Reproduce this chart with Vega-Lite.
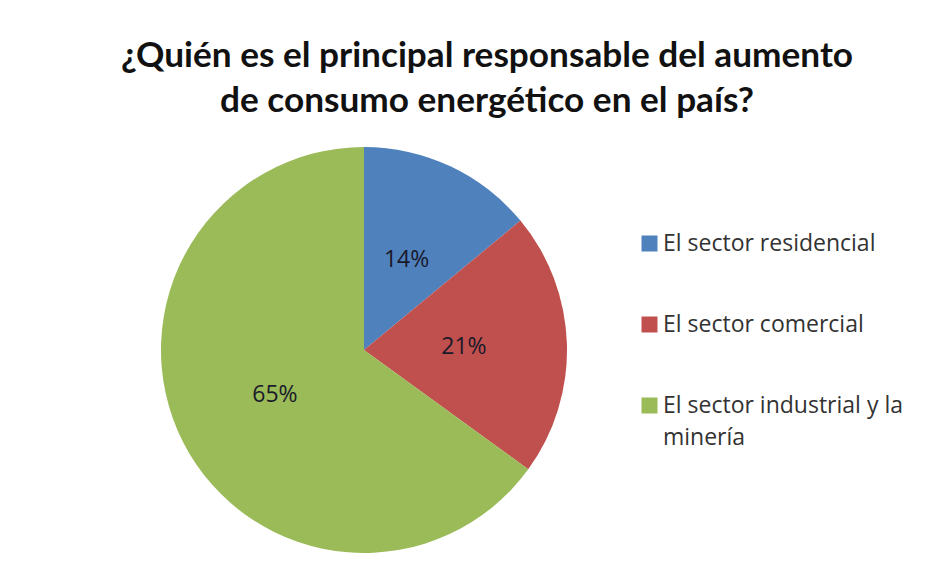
{
  "$schema": "https://vega.github.io/schema/vega-lite/v6.json",
  "width": 406,
  "height": 406,
  "autosize": {"type": "none"},
  "padding": {"left": 161, "top": 147, "right": 380, "bottom": 24},
  "background": "white",
  "title": {
    "text": ["¿Quién es el principal responsable del aumento", "de consumo energético en el país?"],
    "font": "Lato",
    "fontSize": 35.2,
    "fontWeight": "bold",
    "color": "#111111",
    "lineHeight": 45,
    "anchor": "middle",
    "dx": 123,
    "offset": 28
  },
  "data": {
    "values": [
      {"sector": "El sector residencial", "pct": 14, "label": "14%", "order": 1},
      {"sector": "El sector comercial", "pct": 21, "label": "21%", "order": 2},
      {"sector": "El sector industrial y la minería", "pct": 65, "label": "65%", "order": 3}
    ]
  },
  "encoding": {
    "theta": {"field": "pct", "type": "quantitative", "stack": true},
    "order": {"field": "order", "type": "quantitative"},
    "color": {
      "field": "sector",
      "type": "nominal",
      "sort": ["El sector residencial", "El sector comercial", "El sector industrial y la minería"],
      "scale": {
        "domain": ["El sector residencial", "El sector comercial", "El sector industrial y la minería"],
        "range": ["#4F81BD", "#C0504D", "#9BBB59"]
      },
      "legend": {
        "title": null,
        "orient": "none",
        "legendX": 477,
        "legendY": 85,
        "symbolType": "square",
        "symbolSize": 256,
        "symbolStrokeWidth": 0,
        "labelFont": "Open Sans",
        "labelFontSize": 23,
        "labelColor": "#333333",
        "labelLimit": 400,
        "labelOffset": 2,
        "rowPadding": 57,
        "labelExpr": "datum.label == 'El sector industrial y la minería' ? ['El sector industrial y la', 'minería'] : datum.label"
      }
    }
  },
  "layer": [
    {
      "mark": {"type": "arc", "radius": 203, "stroke": null}
    },
    {
      "mark": {"type": "text", "radius": 100, "font": "Open Sans", "fontSize": 23, "color": "#1a1a2a"},
      "encoding": {
        "text": {"field": "label", "type": "nominal"},
        "color": {"value": "#1a1a2a"}
      }
    }
  ],
  "config": {
    "view": {"stroke": null},
    "style": {"guide-label": {"lineHeight": 32}}
  }
}
